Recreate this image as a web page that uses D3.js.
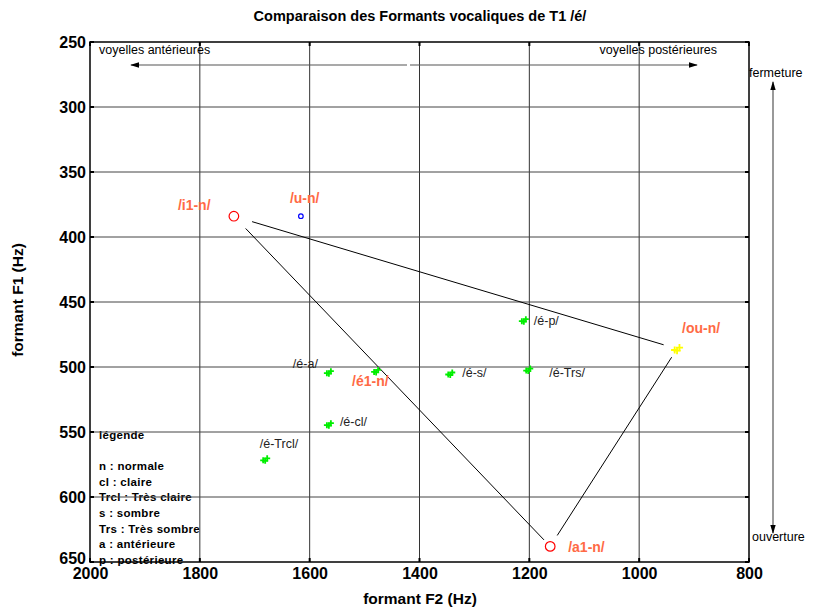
<!DOCTYPE html>
<html><head><meta charset="utf-8">
<script src="https://cdn.jsdelivr.net/npm/d3@7"></script>
<style>body{margin:0;background:#fff;} text{font-family:"Liberation Sans",Arial,sans-serif;}</style>
</head><body>
<svg id="c" width="813" height="610"></svg>
<script>
// ---- data ----
const xTicks = [2000, 1800, 1600, 1400, 1200, 1000, 800];
const yTicks = [250, 300, 350, 400, 450, 500, 550, 600, 650];
const vowelLabels = ["/i1-n/", "/u-n/", "/a1-n/", "/ou-n/"];
const vowelF2 = [1738, 1616, 1162, 931];
const vowelF1 = [384, 384, 638, 486];
const eLabels = ["/é-p/", "/é-a/", "/é1-n/", "/é-s/", "/é-Trs/", "/é-cl/", "/é-Trcl/"];
const eF2 = [1210, 1565, 1479, 1344, 1202, 1565, 1681];
const eF1 = [464, 504, 503, 505, 502, 544, 571];
const legendLines = ["légende", "", "n : normale", "cl : claire", "Trcl : Très claire", "s : sombre", "Trs : Très sombre", "a : antérieure", "p : postérieure"];
const triangle = [[0, 3], [0, 2], [2, 3]]; // i-ou, i-a, a-ou

// ---- layout ----
const svg = d3.select("#c");
const L = 90, R = 749, T = 42, B = 562;
const x = d3.scaleLinear().domain([2000, 800]).range([L, R]);
const y = d3.scaleLinear().domain([250, 650]).range([T, B]);

// title
svg.append("text").attr("x", 420).attr("y", 21).attr("text-anchor", "middle")
  .attr("font-size", 14.5).attr("font-weight", "bold").text("Comparaison des Formants vocaliques de T1 /é/");

// legend text (drawn before grid, grid overlays)
svg.append("g").selectAll("text").data(legendLines).enter().append("text")
  .attr("x", 99).attr("y", (d, i) => 439 + i * 15.6)
  .attr("font-size", 11.5).attr("font-weight", "bold").attr("letter-spacing", 0.3).text(d => d);

// grid
const g = svg.append("g");
g.selectAll(".vg").data(xTicks.slice(1, -1)).enter().append("line")
  .attr("x1", d => x(d)).attr("x2", d => x(d)).attr("y1", T).attr("y2", B)
  .attr("stroke", "#333").attr("stroke-width", 1);
g.selectAll(".hg").data(yTicks.slice(1, -1)).enter().append("line")
  .attr("x1", L).attr("x2", R).attr("y1", d => y(d)).attr("y2", d => y(d))
  .attr("stroke", "#444").attr("stroke-width", 1);

// frame
svg.append("rect").attr("x", L).attr("y", T).attr("width", R - L).attr("height", B - T)
  .attr("fill", "none").attr("stroke", "#000").attr("stroke-width", 1.5);

// axes with inward ticks
const xAxisB = d3.axisBottom(x).tickValues(xTicks).tickSize(0).tickPadding(6).tickFormat(d3.format("d"));
const gx = svg.append("g").attr("transform", `translate(0,${B})`).call(xAxisB);
gx.select(".domain").remove();
gx.selectAll("text").attr("font-size", 16).attr("font-weight", "bold").attr("fill", "#000")
  .style("font-family", "Liberation Sans, Arial, sans-serif");
const yAxisL = d3.axisLeft(y).tickValues(yTicks).tickSize(0).tickPadding(4).tickFormat(d3.format("d"));
const gy = svg.append("g").attr("transform", `translate(${L},0)`).call(yAxisL);
gy.select(".domain").remove();
gy.selectAll("text").attr("font-size", 16).attr("font-weight", "bold").attr("fill", "#000")
  .style("font-family", "Liberation Sans, Arial, sans-serif")
  .attr("dy", d => d === 650 ? "0.1em" : "0.32em");

// tick marks (inward, small)
const tk = svg.append("g").attr("stroke", "#000").attr("stroke-width", 2);
xTicks.forEach(d => {
  tk.append("line").attr("x1", x(d)).attr("x2", x(d)).attr("y1", B).attr("y2", B - 4);
  tk.append("line").attr("x1", x(d)).attr("x2", x(d)).attr("y1", T).attr("y2", T + 4);
});
yTicks.forEach(d => {
  tk.append("line").attr("x1", L).attr("x2", L + 4).attr("y1", y(d)).attr("y2", y(d));
  tk.append("line").attr("x1", R).attr("x2", R - 4).attr("y1", y(d)).attr("y2", y(d));
});

// axis labels
svg.append("text").attr("x", 420).attr("y", 604).attr("text-anchor", "middle")
  .attr("font-size", 15.5).attr("font-weight", "bold").text("formant F2  (Hz)");
svg.append("text").attr("transform", "translate(23,300) rotate(-90)").attr("text-anchor", "middle")
  .attr("font-size", 15.5).attr("font-weight", "bold").text("formant F1  (Hz)");

// arrows
const defs = svg.append("defs");
defs.append("marker").attr("id", "ah").attr("viewBox", "0 0 10 10").attr("refX", 9).attr("refY", 5)
  .attr("markerWidth", 9).attr("markerHeight", 9).attr("markerUnits", "userSpaceOnUse").attr("orient", "auto")
  .append("path").attr("d", "M0,2 L10,5 L0,8 Z").attr("fill", "#000");
const ar = svg.append("g").attr("stroke", "#555").attr("stroke-width", 1.2);
ar.append("line").attr("x1", 407).attr("x2", 131).attr("y1", 65).attr("y2", 65).attr("marker-end", "url(#ah)");
ar.append("line").attr("x1", 410).attr("x2", 697).attr("y1", 65).attr("y2", 65).attr("marker-end", "url(#ah)");
ar.append("line").attr("x1", 773).attr("x2", 773).attr("y1", 300).attr("y2", 82).attr("marker-end", "url(#ah)");
ar.append("line").attr("x1", 773).attr("x2", 773).attr("y1", 300).attr("y2", 533).attr("marker-end", "url(#ah)");
svg.append("text").attr("x", 99).attr("y", 54).attr("font-size", 12.5).text("voyelles antérieures");
svg.append("text").attr("x", 717).attr("y", 54).attr("text-anchor", "end").attr("font-size", 12.5).text("voyelles postérieures");
svg.append("text").attr("x", 749).attr("y", 77).attr("font-size", 12.5).text("fermeture");
svg.append("text").attr("x", 752).attr("y", 541).attr("font-size", 12.5).text("ouverture");

// triangle lines (trimmed near the points)
const trims = [[19, 14], [17, 9], [13, 10]];
triangle.forEach((pr, k) => {
  const x1 = x(vowelF2[pr[0]]), y1 = y(vowelF1[pr[0]]), x2 = x(vowelF2[pr[1]]), y2 = y(vowelF1[pr[1]]);
  const len = Math.hypot(x2 - x1, y2 - y1), ux = (x2 - x1) / len, uy = (y2 - y1) / len;
  svg.append("line").attr("x1", x1 + ux * trims[k][0]).attr("y1", y1 + uy * trims[k][0])
    .attr("x2", x2 - ux * trims[k][1]).attr("y2", y2 - uy * trims[k][1])
    .attr("stroke", "#000").attr("stroke-width", 1);
});

// star-cluster marker
function cluster(sel, cx, cy, color, s) {
  const offs = [[-2, 1], [2, -1], [0, 1.5]];
  offs.forEach(o => {
    const px = cx + o[0] * s, py = cy + o[1] * s;
    sel.append("path").attr("d", `M${px - 3 * s},${py}H${px + 3 * s}M${px},${py - 3 * s}V${py + 3 * s}`)
      .attr("stroke", color).attr("stroke-width", 1.8);
  });
}

// e points
const eOff = [[10, 5, "start"], [-11, -4, "end"], [-24, 15, "start"], [12, 3, "start"], [21, 7, "start"], [11, 2, "start"], [33, -11, "end"]];
const ep = svg.append("g");
eF2.forEach((f2, i) => {
  cluster(ep, x(f2), y(eF1[i]), "#00ee00", 1);
  if (i === 2) {
    ep.append("text").attr("x", x(f2) + eOff[i][0]).attr("y", y(eF1[i]) + eOff[i][1])
      .attr("font-size", 14).attr("font-weight", "bold").attr("fill", "#ff6a45").text(eLabels[i]);
  } else {
    ep.append("text").attr("x", x(f2) + eOff[i][0]).attr("y", y(eF1[i]) + eOff[i][1])
      .attr("text-anchor", eOff[i][2]).attr("font-size", 12.5).attr("fill", "#222").text(eLabels[i]);
  }
});

// reference vowels
const vOff = [[-56, -6], [-11, -13], [18, 6], [5, -16]];
vowelF2.forEach((f2, i) => {
  const cx = x(f2), cy = y(vowelF1[i]);
  if (i === 0 || i === 2) {
    svg.append("circle").attr("cx", cx).attr("cy", cy).attr("r", 4.8).attr("fill", "none").attr("stroke", "#ff0000").attr("stroke-width", 1.2);
  } else if (i === 1) {
    svg.append("circle").attr("cx", cx).attr("cy", cy).attr("r", 2.3).attr("fill", "none").attr("stroke", "#0000ff").attr("stroke-width", 1.2);
  } else {
    cluster(svg, cx, cy, "#ffff00", 1.2);
  }
  svg.append("text").attr("x", cx + vOff[i][0]).attr("y", cy + vOff[i][1])
    .attr("font-size", 14).attr("font-weight", "bold").attr("fill", "#ff6a45").text(vowelLabels[i]);
});
</script>
</body></html>
